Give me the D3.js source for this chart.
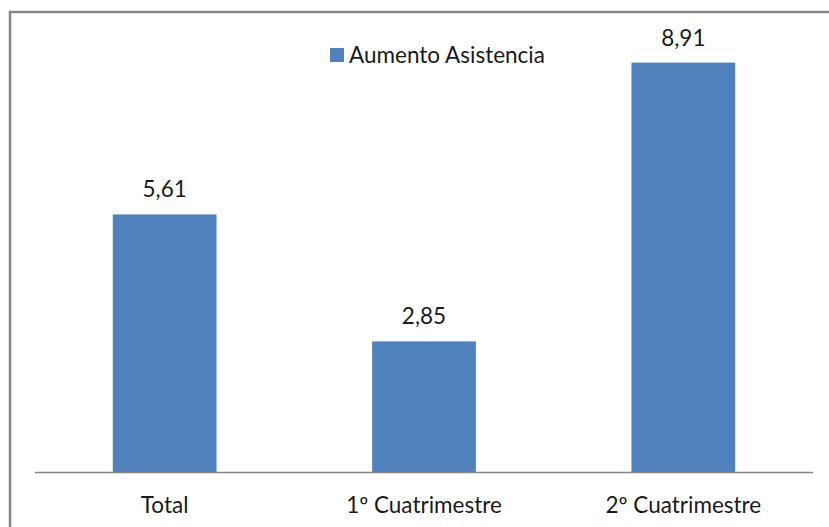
<!DOCTYPE html>
<html>
<head>
<meta charset="utf-8">
<script src="https://cdn.jsdelivr.net/npm/d3@7"></script>
<style>
  body { margin: 0; background: #fff; }
  text { font-family: Lato, "Open Sans", sans-serif; fill: #1a1a1a; }
</style>
</head>
<body>
<svg id="chart" width="829" height="527"></svg>
<script>
// data
var categories = ["Total", "1º Cuatrimestre", "2º Cuatrimestre"];
var values = [5.61, 2.85, 8.91];
var valueLabels = ["5,61", "2,85", "8,91"];
var seriesName = "Aumento Asistencia";

var svg = d3.select("#chart");

// outer frame (only top and left edges fall inside the picture)
svg.append("path")
  .attr("d", "M10,530 L10,12 L835,12")
  .attr("fill", "none")
  .attr("stroke", "#868686")
  .attr("stroke-width", 2.5);

var plotLeft = 35, plotRight = 813, baseY = 472.5;

var x = d3.scaleBand()
  .domain(categories)
  .range([plotLeft, plotRight])
  .paddingInner(0.6)
  .paddingOuter(0.3);

var y = d3.scaleLinear()
  .domain([0, 10])
  .range([baseY, baseY - 460]);

var data = categories.map(function(c, i) { return {cat: c, v: values[i], lbl: valueLabels[i]}; });

svg.selectAll("rect.bar")
  .data(data)
  .join("rect")
  .attr("class", "bar")
  .attr("x", d => x(d.cat))
  .attr("width", x.bandwidth())
  .attr("y", d => y(d.v))
  .attr("height", d => baseY - y(d.v))
  .attr("fill", "#4F81BD");

// baseline
svg.append("line")
  .attr("x1", plotLeft).attr("x2", plotRight)
  .attr("y1", baseY).attr("y2", baseY)
  .attr("stroke", "#868686")
  .attr("stroke-width", 1.5);

// value labels
svg.selectAll("text.val")
  .data(data)
  .join("text")
  .attr("class", "val")
  .attr("x", d => x(d.cat) + x.bandwidth() / 2)
  .attr("y", d => y(d.v) - 17)
  .attr("text-anchor", "middle")
  .style("font-size", "22.5px")
  .text(d => d.lbl);

// category labels
svg.selectAll("text.cat")
  .data(categories)
  .join("text")
  .attr("class", "cat")
  .attr("x", d => x(d) + x.bandwidth() / 2)
  .attr("y", 513)
  .attr("text-anchor", "middle")
  .style("font-size", "22.5px")
  .text(d => d);

// legend
svg.append("rect")
  .attr("x", 330).attr("y", 48)
  .attr("width", 14).attr("height", 14)
  .attr("fill", "#4F81BD");
svg.append("text")
  .attr("x", 349).attr("y", 63)
  .style("font-size", "22.5px")
  .text(seriesName);
</script>
</body>
</html>
